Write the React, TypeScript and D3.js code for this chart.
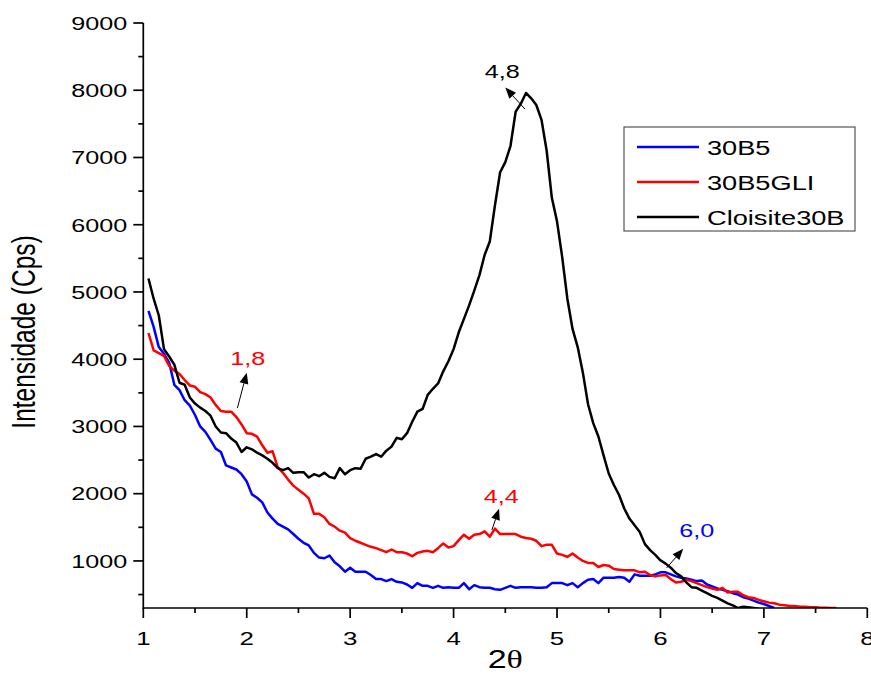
import React, { useEffect, useRef } from "react";
import * as d3 from "d3";

// scan grid (2θ), step of the diffractometer
const START = 1.05;
const STEP = 0.05;

const series30B5 = [
  4720, 4480, 4180, 4080, 3950, 3620, 3540, 3390, 3310, 3170,
  3000, 2920, 2800, 2670, 2620, 2420, 2390, 2360, 2290, 2180,
  1990, 1940, 1870, 1720, 1630, 1550, 1510, 1470, 1400, 1330,
  1270, 1230, 1120, 1050, 1040, 1080, 980, 920, 840, 900,
  840, 840, 840, 790, 730, 730, 700, 730, 690, 680,
  650, 600, 670, 630, 630, 600, 630, 600, 610, 600,
  600, 670, 580, 640, 610, 600, 600, 580, 570, 600,
  630, 600, 610, 610, 610, 600, 600, 610, 670, 670,
  670, 640, 670, 610, 670, 720, 730, 670, 750, 750,
  750, 760, 750, 690, 800, 780, 780, 780, 800, 830,
  830, 800, 770, 750, 740, 720, 700, 710, 650, 620,
  590, 570, 550, 520, 500, 460, 440, 410, 380, 360, 330, 300
];

const series30B5GLI = [
  4390, 4130, 4090, 4050, 3900, 3830, 3780, 3690, 3610, 3590,
  3510, 3480, 3430, 3320, 3230, 3220, 3220, 3140, 3030, 2900,
  2890, 2850, 2720, 2610, 2630, 2390, 2310, 2210, 2120, 2060,
  2000, 1930, 1700, 1700, 1650, 1550, 1510, 1450, 1420, 1340,
  1300, 1270, 1240, 1210, 1190, 1160, 1130, 1170, 1130, 1130,
  1110, 1070, 1120, 1140, 1150, 1130, 1190, 1260, 1200, 1220,
  1310, 1390, 1330, 1390, 1400, 1440, 1360, 1480, 1400, 1400,
  1400, 1400, 1360, 1340, 1330, 1300, 1220, 1240, 1240, 1110,
  1090, 1060, 1110, 1050, 1000, 970, 970, 910, 940, 930,
  880, 870, 860, 860, 860, 830, 840, 790, 770, 785,
  790, 730, 680, 690, 720, 700, 670, 640, 610, 590,
  570, 600, 530, 540, 540, 490, 460, 450, 420, 400,
  380, 370, 350, 340, 330, 330, 320, 320, 310, 310,
  305, 305, 300, 300
];

const seriesCloisite30B = [
  5200, 4900, 4650, 4150, 4040, 3920, 3650, 3620, 3430, 3340,
  3280, 3230, 3160, 3000, 2910, 2900, 2820, 2760, 2620, 2690,
  2660, 2610, 2570, 2520, 2460, 2380, 2350, 2380, 2310, 2320,
  2320, 2240, 2290, 2260, 2310, 2250, 2230, 2380, 2290, 2350,
  2380, 2370, 2520, 2550, 2590, 2550, 2640, 2700, 2830, 2810,
  2900, 3070, 3220, 3260, 3470, 3560, 3640, 3820, 3970, 4150,
  4400, 4600, 4800, 5020, 5250, 5550, 5750, 6290, 6780, 6930,
  7170, 7680, 7800, 7960, 7880, 7780, 7560, 7100, 6400, 6050,
  5520, 4900, 4450, 4180, 3800, 3330, 3050, 2850, 2570, 2300,
  2130, 1980, 1780, 1630, 1530, 1430, 1250, 1160, 1090, 1010,
  960, 900, 820, 770, 680, 610, 600, 560, 520, 480,
  450, 410, 370, 340, 300, 320, 310, 300, 290
];

const seriesNames = ["30B5", "30B5GLI", "Cloisite30B"];
const seriesColors = ["#0000ff", "#ff0000", "#000000"];
const seriesValues = [series30B5, series30B5GLI, seriesCloisite30B];

const xTicks = [1, 2, 3, 4, 5, 6, 7, 8];
const xMinorTicks = [1.5, 2.5, 3.5, 4.5, 5.5, 6.5, 7.5];
const yTicks = [1000, 2000, 3000, 4000, 5000, 6000, 7000, 8000, 9000];
const yMinorTicks = [500, 1500, 2500, 3500, 4500, 5500, 6500, 7500, 8500];

// peak labels: text anchor point and arrow tail -> head, in data units
const annotations = [
  { label: "4,8", color: "#000000", tx: 4.47, ty: 8180, x0: 4.69, y0: 7720, x1: 4.5, y1: 8040 },
  { label: "1,8", color: "#ff0000", tx: 2.01, ty: 3915, x0: 1.91, y0: 3275, x1: 2.0, y1: 3800 },
  { label: "4,4", color: "#ff0000", tx: 4.46, ty: 1862, x0: 4.37, y0: 1460, x1: 4.44, y1: 1775 },
  { label: "6,0", color: "#0000ff", tx: 6.35, ty: 1357, x0: 6.06, y0: 896, x1: 6.22, y1: 1180 }
];

const FONT = "Arial, 'Liberation Sans', sans-serif";
const SX = 1.36; // the original picture is stretched sideways

const App = () => {
  const svgRef = useRef(null);
  const width = 871;
  const height = 693;

  useEffect(() => {
    const svg = d3.select(svgRef.current);
    svg.selectAll("*").remove();

    const left = 143.3;
    const right = 867.3;
    const top = 23;
    const bottom = 608;

    const x = d3.scaleLinear().domain([1, 8]).range([left, right]);
    const y = d3.scaleLinear().domain([300, 9000]).range([bottom, top]);

    const text = (g, px, py, str, size, color, anchor) =>
      g.append("text")
        .attr("transform", `translate(${px},${py}) scale(${SX},1)`)
        .attr("text-anchor", anchor)
        .attr("font-family", FONT)
        .attr("font-size", size)
        .attr("fill", color)
        .text(str);

    svg.append("defs").append("clipPath").attr("id", "plot-clip")
      .append("rect")
      .attr("x", left).attr("y", top - 5)
      .attr("width", right - left).attr("height", bottom - top + 5);

    // curves
    const line = d3.line()
      .x((d, i) => x(START + i * STEP))
      .y((d) => y(d));

    svg.append("g").attr("clip-path", "url(#plot-clip)")
      .selectAll("path")
      .data(seriesValues)
      .join("path")
      .attr("d", (d) => line(d))
      .attr("fill", "none")
      .attr("stroke", (d, i) => seriesColors[i])
      .attr("stroke-width", 2.5)
      .attr("stroke-linejoin", "round");

    // axes
    const axes = svg.append("g").attr("stroke", "#000").attr("stroke-width", 1.7);
    axes.append("line").attr("x1", left).attr("x2", left).attr("y1", top).attr("y2", bottom + 0.8);
    axes.append("line").attr("x1", left - 0.8).attr("x2", right).attr("y1", bottom).attr("y2", bottom);

    axes.selectAll("line.ym").data(yTicks).join("line").attr("class", "ym")
      .attr("x1", left - 10).attr("x2", left).attr("y1", (d) => y(d)).attr("y2", (d) => y(d));
    axes.selectAll("line.yn").data(yMinorTicks).join("line").attr("class", "yn")
      .attr("x1", left - 5).attr("x2", left).attr("y1", (d) => y(d)).attr("y2", (d) => y(d));
    axes.selectAll("line.xm").data(xTicks).join("line").attr("class", "xm")
      .attr("x1", (d) => x(d)).attr("x2", (d) => x(d)).attr("y1", bottom).attr("y2", bottom + 10);
    axes.selectAll("line.xn").data(xMinorTicks).join("line").attr("class", "xn")
      .attr("x1", (d) => x(d)).attr("x2", (d) => x(d)).attr("y1", bottom).attr("y2", bottom + 5);

    const labels = svg.append("g");
    yTicks.forEach((t) => text(labels, left - 16, y(t) + 6.8, String(t), 18.5, "#000", "end"));
    xTicks.forEach((t) => text(labels, x(t), bottom + 37, String(t), 19, "#000", "middle"));

    // axis titles
    const xt = labels.append("text")
      .attr("transform", `translate(${(left + right) / 2},${bottom + 60}) scale(${SX},1)`)
      .attr("text-anchor", "middle")
      .attr("font-family", FONT)
      .attr("font-size", 25);
    xt.append("tspan").text("2");
    xt.append("tspan").attr("font-family", "'Liberation Serif', serif").text("θ");

    labels.append("text")
      .attr("transform", `translate(35,332) scale(${SX},1) rotate(-90)`)
      .attr("text-anchor", "middle")
      .attr("font-family", FONT)
      .attr("font-size", 24.5)
      .text("Intensidade (Cps)");

    // legend
    const legend = svg.append("g");
    legend.append("rect")
      .attr("x", 624).attr("y", 127).attr("width", 231).attr("height", 104)
      .attr("fill", "#fff").attr("stroke", "#555").attr("stroke-width", 1.2);
    seriesNames.forEach((name, i) => {
      const ry = 147 + i * 35;
      legend.append("line")
        .attr("x1", 637).attr("x2", 699).attr("y1", ry).attr("y2", ry)
        .attr("stroke", seriesColors[i]).attr("stroke-width", 2.5);
      text(legend, 707, ry + 7.5, name, 20, "#000", "start");
    });

    // peak annotations
    const notes = svg.append("g");
    annotations.forEach((a) => {
      text(notes, x(a.tx), y(a.ty), a.label, 18.5, a.color, "middle");
      const px0 = x(a.x0), py0 = y(a.y0), px1 = x(a.x1), py1 = y(a.y1);
      const ang = Math.atan2(py1 - py0, px1 - px0);
      const len = 11, half = 4.5;
      const bx = px1 - len * Math.cos(ang), by = py1 - len * Math.sin(ang);
      notes.append("line")
        .attr("x1", px0).attr("y1", py0).attr("x2", bx).attr("y2", by)
        .attr("stroke", "#000").attr("stroke-width", 1);
      notes.append("path")
        .attr("d", d3.line()([
          [px1, py1],
          [bx + half * Math.sin(ang), by - half * Math.cos(ang)],
          [bx - half * Math.sin(ang), by + half * Math.cos(ang)]
        ]) + "Z")
        .attr("fill", "#000");
    });
  }, []);

  return (
    <svg
      ref={svgRef}
      width={width}
      height={height}
      style={{ position: "absolute", left: 0, top: 0, background: "#fff" }}
      role="img"
      aria-label="XRD intensity chart"
    />
  );
};

export default App;
